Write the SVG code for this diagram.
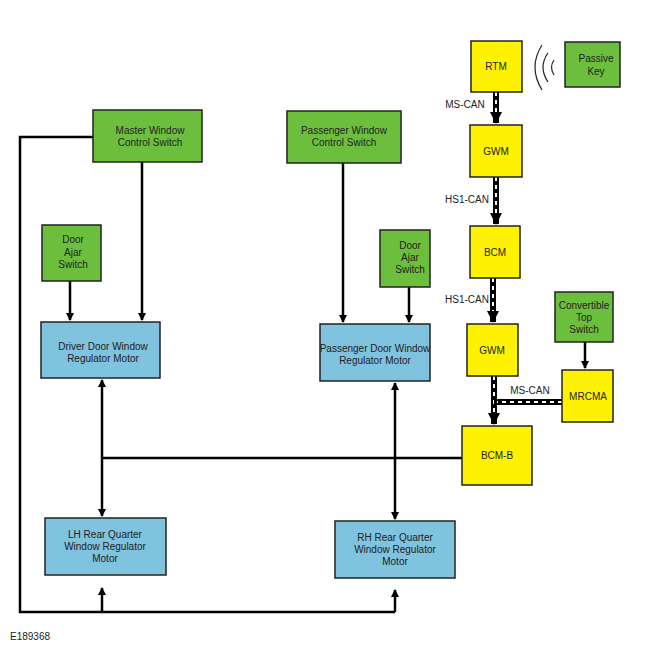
<svg xmlns="http://www.w3.org/2000/svg" width="650" height="650" viewBox="0 0 650 650">
<style>
.g{fill:#6cbf3c;stroke:#222;stroke-width:1.5}
.y{fill:#fff200;stroke:#222;stroke-width:1.5}
.b{fill:#7fc3df;stroke:#222;stroke-width:1.5}
text{font-family:"Liberation Sans",Arial,sans-serif;font-size:10px;fill:#222;text-anchor:middle}
.w{fill:none;stroke:#000;stroke-width:2.5}
.can{fill:none;stroke:#000;stroke-width:6}
.dash{fill:none;stroke:#fff;stroke-width:2;stroke-dasharray:4 4}
</style>
<defs>
<marker id="a" markerWidth="8" markerHeight="8" refX="7" refY="4" orient="auto" markerUnits="userSpaceOnUse"><path d="M0,0 L8,4 L0,8 z" fill="#000"/></marker>
<marker id="c" markerWidth="12" markerHeight="12" refX="11" refY="6" orient="auto" markerUnits="userSpaceOnUse"><path d="M0,0 L12,6 L0,12 z" fill="#000"/></marker>
</defs>
<rect width="650" height="650" fill="#fff"/>
<g id="connectors">
<path class="w" d="M93,137 H20 V612 H395"/>
<path class="w" d="M102,612 V588" marker-end="url(#a)"/>
<path class="w" d="M395,612 V590" marker-end="url(#a)"/>
<path class="w" d="M142,162 V320" marker-end="url(#a)"/>
<path class="w" d="M70,281 V320" marker-end="url(#a)"/>
<path class="w" d="M343,163 V322" marker-end="url(#a)"/>
<path class="w" d="M409,287 V322" marker-end="url(#a)"/>
<path class="w" d="M102,458 H462"/>
<path class="w" d="M102,458 V380" marker-end="url(#a)"/>
<path class="w" d="M102,458 V516" marker-end="url(#a)"/>
<path class="w" d="M395,458 V383" marker-end="url(#a)"/>
<path class="w" d="M395,458 V519" marker-end="url(#a)"/>
<path class="w" d="M585,342 V368" marker-end="url(#a)"/>
<path class="can" d="M496,92 V123" marker-end="url(#c)"/><path class="dash" d="M496,92 V112"/>
<path class="can" d="M496,177 V224" marker-end="url(#c)"/><path class="dash" d="M496,177 V213"/>
<path class="can" d="M493,278 V322" marker-end="url(#c)"/><path class="dash" d="M493,278 V311"/>
<path class="can" d="M494,376 V424" marker-end="url(#c)"/><path class="dash" d="M494,376 V413"/>
<path class="can" d="M562,402 H494"/><path class="dash" d="M562,402 H497"/>
<path d="M542,45 Q528,67 542,90 M548,53 Q538,67 548,82 M554,60 Q549,67 554,75" fill="none" stroke="#222" stroke-width="1.2"/>
<text x="465" y="108">MS-CAN</text>
<text x="467" y="203">HS1-CAN</text>
<text x="467" y="303">HS1-CAN</text>
<text x="530" y="394">MS-CAN</text>
</g>
<g id="rtm"><rect class="y" x="471" y="41" width="51" height="51"/><text x="496" y="70">RTM</text></g>
<g id="pkey"><rect class="g" x="565" y="42" width="55" height="45"/><text x="596" y="62">Passive</text><text x="596" y="75">Key</text></g>
<g id="gwm1"><rect class="y" x="470" y="125" width="52" height="52"/><text x="496" y="155">GWM</text></g>
<g id="bcm"><rect class="y" x="470" y="226" width="50" height="52"/><text x="495" y="256">BCM</text></g>
<g id="gwm2"><rect class="y" x="467" y="324" width="51" height="52"/><text x="492" y="354">GWM</text></g>
<g id="cts"><rect class="g" x="555" y="292" width="58" height="50"/><text x="584" y="309">Convertible</text><text x="584" y="321">Top</text><text x="584" y="333">Switch</text></g>
<g id="mrcma"><rect class="y" x="562" y="370" width="51" height="52"/><text x="588" y="400">MRCMA</text></g>
<g id="bcmb"><rect class="y" x="462" y="426" width="70" height="59"/><text x="497" y="459">BCM-B</text></g>
<g id="master"><rect class="g" x="93" y="110" width="109" height="52"/><text x="150" y="134">Master Window</text><text x="150" y="146">Control Switch</text></g>
<g id="pwcs"><rect class="g" x="287" y="111" width="114" height="52"/><text x="344" y="134">Passenger Window</text><text x="344" y="146">Control Switch</text></g>
<g id="dajl"><rect class="g" x="42" y="225" width="59" height="56"/><text x="73" y="243">Door</text><text x="73" y="256">Ajar</text><text x="73" y="268">Switch</text></g>
<g id="dajr"><rect class="g" x="380" y="230" width="50" height="57"/><text x="410" y="249">Door</text><text x="410" y="261">Ajar</text><text x="410" y="273">Switch</text></g>
<g id="ddm"><rect class="b" x="41" y="322" width="119" height="56"/><text x="103" y="350">Driver Door Window</text><text x="103" y="362">Regulator Motor</text></g>
<g id="pdm"><rect class="b" x="320" y="324" width="110" height="57"/><text x="375" y="352">Passenger Door Window</text><text x="375" y="364">Regulator Motor</text></g>
<g id="lhr"><rect class="b" x="45" y="518" width="121" height="57"/><text x="105" y="538">LH Rear Quarter</text><text x="105" y="550">Window Regulator</text><text x="105" y="562">Motor</text></g>
<g id="rhr"><rect class="b" x="335" y="521" width="120" height="57"/><text x="395" y="541">RH Rear Quarter</text><text x="395" y="553">Window Regulator</text><text x="395" y="565">Motor</text></g>
<text x="10" y="640" style="text-anchor:start">E189368</text>
</svg>
